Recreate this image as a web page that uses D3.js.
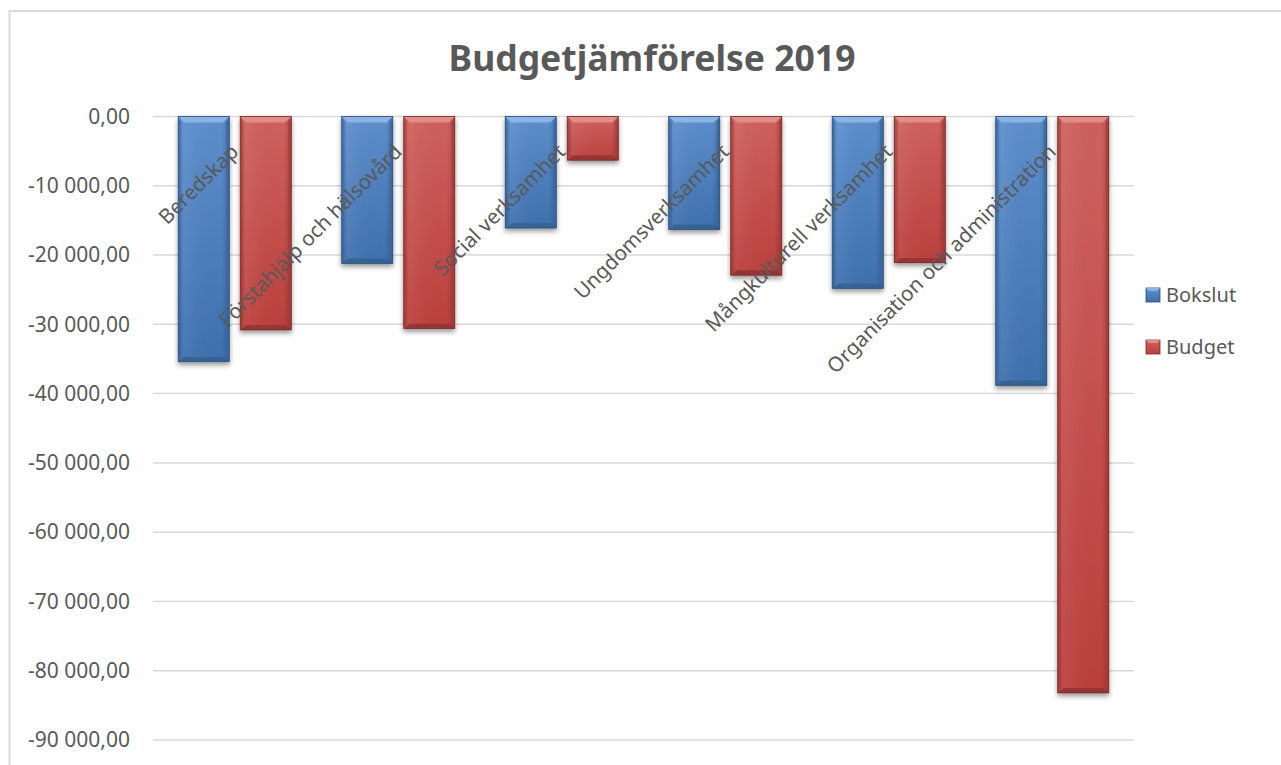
<!DOCTYPE html>
<html lang="sv">
    <head>
        <meta charset="UTF-8">
        <style>
            html, body{
                margin: 0;
                padding: 0;
                background: #fff;
                font-family: 'Noto Sans', sans-serif;
            }
            #chart{
                display: block;
            }
            .tick text{
                fill: #595959;
            }
        </style>
    </head>
    <body>
        <svg id="chart" width="1281" height="765"></svg>

        <script src="https://d3js.org/d3.v7.min.js"></script>
        <script>
            ///////////////////////////
            //// DATA              ////
            ///////////////////////////
            const categories = ['Beredskap', 'Förstahjälp och hälsovård', 'Social verksamhet', 'Ungdomsverksamhet', 'Mångkulturell verksamhet', 'Organisation och administration']
            const seriesNames = ['Bokslut', 'Budget']
            const bokslut = [-35400, -21200, -16100, -16300, -24800, -38800]
            const budget = [-30800, -30600, -6300, -22900, -21100, -83200]
            const yTicks = [0, -10000, -20000, -30000, -40000, -50000, -60000, -70000, -80000, -90000]
            const title = 'Budgetjämförelse 2019'

            ///////////////////////////
            //// SETTINGS          ////
            ///////////////////////////
            const settings = {
                plot:   {left: 153, right: 1134, top: 116.5, bottom: 740},
                bevel:  6,
                palette: {
                    Bokslut: {base: '#4f81bd', light: '#5d8fcd', dark: '#3e70ae', top: '#8cb3e3', side: '#3a68a0', bottom: '#35608f', line: '#2c4f7a'},
                    Budget:  {base: '#c0504d', light: '#cf615e', dark: '#bb403d', top: '#e28d8a', side: '#a43c39', bottom: '#8f3331', line: '#7a2a28'}
                }
            }

            const svg = d3.select('#chart')
            const defs = svg.append('defs')

            // drop shadow for the bars
            defs.append('filter').attr('id', 'barShadow')
                .attr('x', '-20%').attr('y', '-20%').attr('width', '140%').attr('height', '140%')
                .append('feDropShadow')
                    .attr('dx', 0).attr('dy', 3)
                    .attr('stdDeviation', 2.5)
                    .attr('flood-color', '#000')
                    .attr('flood-opacity', 0.4)

            seriesNames.forEach(name => {
                const c = settings.palette[name]
                const g = defs.append('linearGradient').attr('id', 'grad-' + name)
                    .attr('x1', 0).attr('y1', 0).attr('x2', 0).attr('y2', 1)
                g.append('stop').attr('offset', '0%').attr('stop-color', c.light)
                g.append('stop').attr('offset', '100%').attr('stop-color', c.dark)
                const h = defs.append('linearGradient').attr('id', 'side-' + name)
                    .attr('x1', 0).attr('y1', 0).attr('x2', 1).attr('y2', 0)
                h.append('stop').attr('offset', '0%').attr('stop-color', '#000').attr('stop-opacity', 0.12)
                h.append('stop').attr('offset', '12%').attr('stop-color', '#fff').attr('stop-opacity', 0.06)
                h.append('stop').attr('offset', '85%').attr('stop-color', '#000').attr('stop-opacity', 0)
                h.append('stop').attr('offset', '100%').attr('stop-color', '#000').attr('stop-opacity', 0.18)
            })

            // chart area border
            svg.append('rect')
                .attr('x', 9.5).attr('y', 11)
                .attr('width', 1290).attr('height', 800)
                .attr('fill', '#fff')
                .attr('stroke', '#d9d9d9')
                .attr('stroke-width', 2)

            // title
            svg.append('text')
                .attr('x', 652).attr('y', 71)
                .attr('text-anchor', 'middle')
                .attr('font-size', '35.5px')
                .attr('font-weight', 'bold')
                .attr('fill', '#595959')
                .text(title)

            ///////////////////////////
            //// SCALES AND AXES   ////
            ///////////////////////////
            const y = d3.scaleLinear()
                .domain([0, -90000])
                .range([settings.plot.top, settings.plot.bottom])

            const x0 = d3.scaleBand()
                .domain(categories)
                .range([settings.plot.left, settings.plot.right])

            const x1 = d3.scaleBand()
                .domain(seriesNames)
                .range([0, x0.bandwidth()])
                .paddingInner(0.177)
                .paddingOuter(0.407)

            const locale = d3.formatLocale({decimal: ',', thousands: ' ', grouping: [3], currency: ['', ' kr'], minus: '-'})
            const fmt = locale.format(',.2f')

            // gridlines
            svg.append('g').attr('class', 'grid')
                .selectAll('line')
                .data(yTicks)
                .join('line')
                    .attr('x1', settings.plot.left)
                    .attr('x2', settings.plot.right)
                    .attr('y1', d => y(d))
                    .attr('y2', d => y(d))
                    .attr('stroke', '#d9d9d9')
                    .attr('stroke-width', 1.5)

            const yAxis = svg.append('g')
                .attr('transform', 'translate(' + settings.plot.left + ',0)')
                .call(d3.axisLeft(y).tickValues(yTicks).tickFormat(fmt).tickSize(0).tickPadding(23))
            yAxis.select('.domain').remove()
            yAxis.selectAll('text')
                .attr('font-family', "'Noto Sans', sans-serif")
                .attr('font-size', '21px')

            ///////////////////////////
            //// BARS              ////
            ///////////////////////////
            const rows = categories.map((c, i) => ({category: c, values: [
                {series: 'Bokslut', value: bokslut[i]},
                {series: 'Budget', value: budget[i]}
            ]}))

            const b = settings.bevel
            const barGroups = svg.append('g').attr('class', 'bars')
                .selectAll('g')
                .data(rows)
                .join('g')
                    .attr('transform', d => 'translate(' + x0(d.category) + ',0)')

            const bar = barGroups.selectAll('g')
                .data(d => d.values)
                .join('g')
                    .attr('filter', 'url(#barShadow)')

            bar.each(function(d){
                const g = d3.select(this)
                const c = settings.palette[d.series]
                const xl = x1(d.series), w = x1.bandwidth()
                const yt = y(0), yb = y(d.value)
                const pts = arr => arr.map(p => p.join(',')).join(' ')
                g.append('rect')
                    .attr('x', xl).attr('y', yt)
                    .attr('width', w).attr('height', yb - yt)
                    .attr('fill', 'url(#grad-' + d.series + ')')
                g.append('rect')
                    .attr('x', xl).attr('y', yt)
                    .attr('width', w).attr('height', yb - yt)
                    .attr('fill', 'url(#side-' + d.series + ')')
                // left / right bevels
                g.append('polygon')
                    .attr('points', pts([[xl, yt], [xl + b * 0.5, yt + b], [xl + b * 0.5, yb - b], [xl, yb]]))
                    .attr('fill', c.side).attr('opacity', 0.55)
                g.append('polygon')
                    .attr('points', pts([[xl + w, yt], [xl + w - b * 0.5, yt + b], [xl + w - b * 0.5, yb - b], [xl + w, yb]]))
                    .attr('fill', c.side).attr('opacity', 0.8)
                // top bevel
                g.append('polygon')
                    .attr('points', pts([[xl, yt], [xl + w, yt], [xl + w - b, yt + b], [xl + b, yt + b]]))
                    .attr('fill', c.top)
                // bottom bevel
                g.append('polygon')
                    .attr('points', pts([[xl, yb], [xl + w, yb], [xl + w - b, yb - b * 0.8], [xl + b, yb - b * 0.8]]))
                    .attr('fill', c.bottom).attr('opacity', 0.85)
                g.append('rect')
                    .attr('x', xl).attr('y', yt)
                    .attr('width', w).attr('height', yb - yt)
                    .attr('fill', 'none')
                    .attr('stroke', c.line)
                    .attr('stroke-width', 0.8)
            })

            ///////////////////////////
            //// CATEGORY LABELS   ////
            ///////////////////////////
            svg.append('g').attr('class', 'category-labels')
                .selectAll('text')
                .data(categories)
                .join('text')
                    .attr('transform', d => 'translate(' + (x0(d) + x0.bandwidth() / 2 + 5) + ',153) rotate(-45)')
                    .attr('text-anchor', 'end')
                    .attr('font-size', '20.6px')
                    .attr('fill', '#595959')
                    .text(d => d)

            ///////////////////////////
            //// LEGEND            ////
            ///////////////////////////
            const legend = svg.append('g').attr('class', 'legend')
                .selectAll('g')
                .data(seriesNames)
                .join('g')
                    .attr('transform', (d, i) => 'translate(1146,' + (288 + i * 52) + ')')
            legend.append('rect')
                .attr('width', 14).attr('height', 14)
                .attr('fill', d => 'url(#grad-' + d + ')')
                .attr('stroke', d => settings.palette[d].line)
                .attr('stroke-width', 0.8)
            legend.append('polygon')
                .attr('points', '0,0 14,0 11,3 3,3')
                .attr('fill', d => settings.palette[d].top)
            legend.append('text')
                .attr('x', 20).attr('y', 14)
                .attr('font-size', '20px')
                .attr('fill', '#595959')
                .text(d => d)
        </script>
    </body>
</html>
